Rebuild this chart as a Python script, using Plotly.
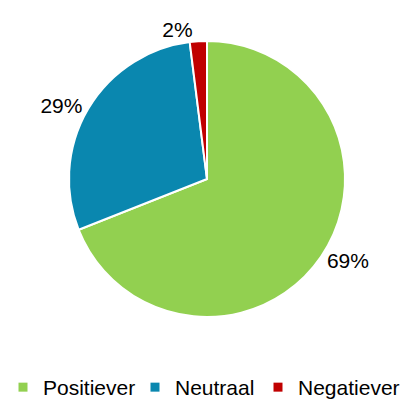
import plotly.graph_objects as go

labels = ["Positiever", "Neutraal", "Negatiever"]
values = [69, 29, 2]
colors = ["#92D050", "#0A87AF", "#C00000"]

FONT = "Liberation Sans, Arial, sans-serif"

fig = go.Figure()
fig.add_trace(go.Pie(
    labels=labels,
    values=values,
    sort=False,
    direction="clockwise",
    rotation=0,
    marker=dict(colors=colors, line=dict(color="white", width=2)),
    textinfo="percent",
    texttemplate="%{percent:.0%}",
    textposition="outside",
    textfont=dict(family=FONT, size=21, color="#000000"),
    domain=dict(x=[61/413, 337/413], y=[1-309/400, 1-33/400]),
    showlegend=False,
))

# legend entries (one legend per entry so spacing can follow the reference)
legend_ids = ["legend", "legend2", "legend3"]
legend_x = [0.0, 127 / 413, 250 / 413]
legend_indent = [-5, 0, 0]
for lab, col, lid in zip(labels, colors, legend_ids):
    fig.add_trace(go.Scatter(
        x=[None], y=[None], mode="markers", name=lab,
        marker=dict(symbol="square", size=9, color=col),
        legend=lid, showlegend=True, hoverinfo="skip",
    ))

legend_common = dict(orientation="h", xanchor="left", y=0.0, yanchor="bottom",
                     font=dict(family=FONT, size=21, color="#000000"),
                     itemwidth=30, bgcolor="rgba(0,0,0,0)")

fig.update_layout(
    width=413, height=400,
    margin=dict(l=0, r=0, t=0, b=0),
    paper_bgcolor="white",
    plot_bgcolor="white",
    font=dict(family=FONT, size=21, color="#000000"),
    xaxis=dict(visible=False),
    yaxis=dict(visible=False),
    legend=dict(x=legend_x[0], indentation=legend_indent[0], **legend_common),
    legend2=dict(x=legend_x[1], indentation=legend_indent[1], **legend_common),
    legend3=dict(x=legend_x[2], indentation=legend_indent[2], **legend_common),
)

fig.write_html("out.html")
